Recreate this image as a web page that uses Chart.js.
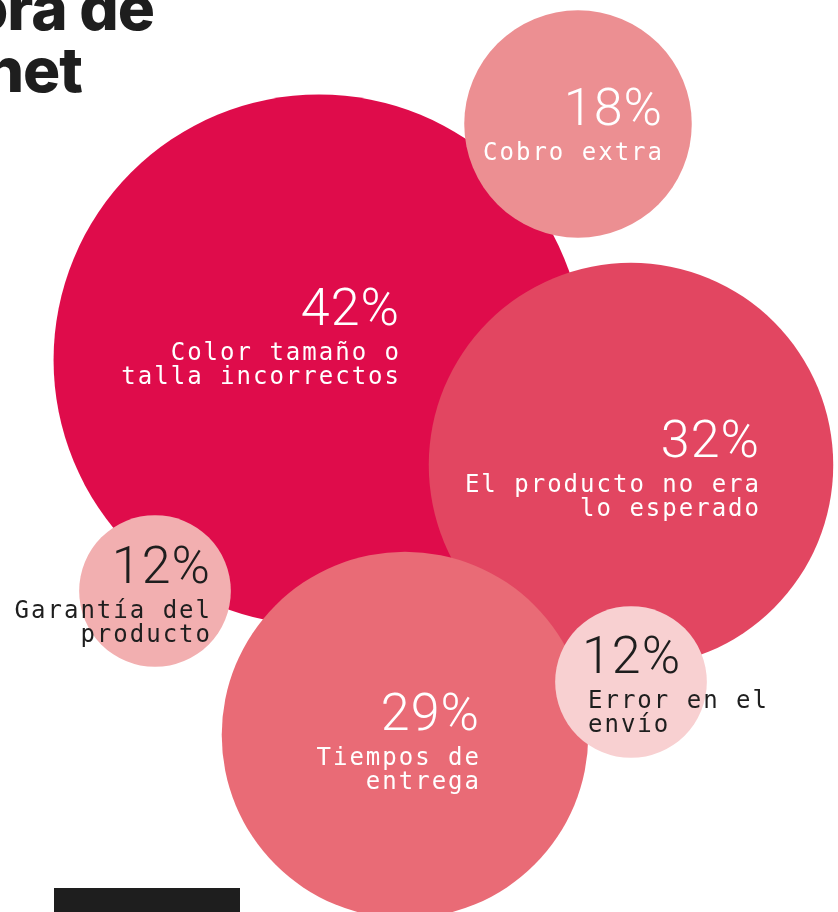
<!DOCTYPE html>
<html lang="es">
<head>
<meta charset="utf-8">
<title>Motivos de devolución</title>
<script src="https://cdn.jsdelivr.net/npm/chart.js@4"></script>
<style>
  html, body { margin: 0; padding: 0; background: #fff; overflow: hidden; }
  #bubbles { display: block; }
</style>
</head>
<body>
<canvas id="bubbles" width="838" height="912"></canvas>
<script>
// ── Data ──────────────────────────────────────────────────── //
// Drawing order matters: later bubbles sit on top of earlier ones.
const percents = [42, 18, 32, 12, 29, 12];
const reasonLines = [
  ['Color tamaño o', 'talla incorrectos'],
  ['Cobro extra'],
  ['El producto no era', 'lo esperado'],
  ['Garantía del', 'producto'],
  ['Tiempos de', 'entrega'],
  ['Error en el', 'envío'],
];
// bubble centres in axis units (x: 0–838, y: 0–912 top-down)
const bubbleX = [319, 578, 631, 155, 405, 631];
const bubbleY = [360, 124, 465, 591, 735, 682];
const titleLines = ['Qué frena al comprador a la hora de', 'comprar por internet'];

// ── Styling ───────────────────────────────────────────────── //
const fills = ['#df0c4b', '#ec8f92', '#e24661', '#f2afb0', '#e96b76', '#f8d0d1'];
const inkColors = ['#ffffff', '#ffffff', '#ffffff', '#1e1e1e', '#ffffff', '#1e1e1e'];
// text anchor relative to bubble centre (px), baseline of the percentage
const labelAnchors = [
  { dx: 80,  dy: -35, align: 'right' },
  { dx: 84,  dy: 1,   align: 'right' },
  { dx: 128, dy: -8,  align: 'right' },
  { dx: 55,  dy: -8,  align: 'right' },
  { dx: 74,  dy: -5,  align: 'right' },
  { dx: -49, dy: -9,  align: 'left'  },
];
const RADIUS_PER_POINT = 6.32; // bubble radius grows linearly with the percentage
const INK = '#1e1e1e';

/** Writes text with letter spacing; right-aligned text is nudged so the last glyph sits on x. */
function spacedText(ctx, text, x, y, spacing, align) {
  ctx.letterSpacing = spacing + 'px';
  ctx.textAlign = align;
  ctx.fillText(text, align === 'right' ? x + spacing : x, y);
  ctx.letterSpacing = '0px';
}

/** Percentages and reasons inside each bubble. */
const bubbleLabels = {
  id: 'bubbleLabels',
  afterDatasetsDraw(chart) {
    const { ctx } = chart;
    const points = chart.getDatasetMeta(0).data;
    ctx.save();
    ctx.textBaseline = 'alphabetic';
    points.forEach((pt, i) => {
      const a = labelAnchors[i];
      const x = pt.x + a.dx;
      const y = pt.y + a.dy;
      ctx.fillStyle = inkColors[i];

      ctx.font = '300 52px Roboto';
      spacedText(ctx, percents[i] + '%', x, y, 1, a.align);

      ctx.font = '24px "DejaVu Sans Mono"';
      const lx = a.align === 'left' ? x + 6 : x;
      reasonLines[i].forEach((line, j) => {
        spacedText(ctx, line, lx, y + 35 + j * 24, 2, a.align);
      });
    });
    ctx.restore();
  },
};

/** Headline (runs off the left edge) and the dark block at the foot. */
const pageDecor = {
  id: 'pageDecor',
  afterDraw(chart) {
    const { ctx } = chart;
    ctx.save();
    ctx.fillStyle = INK;
    ctx.textAlign = 'right';
    ctx.textBaseline = 'alphabetic';
    ctx.font = '800 62px Inter';
    ctx.letterSpacing = '-1px';
    ctx.fillText(titleLines[0], 154, 30);
    ctx.fillText(titleLines[1], 82, 92);
    ctx.fillRect(54, 888, 186, 24);
    ctx.restore();
  },
};

const bubbleData = percents.map((p, i) => ({ x: bubbleX[i], y: bubbleY[i], v: p }));

new Chart(document.getElementById('bubbles').getContext('2d'), {
  type: 'bubble',
  plugins: [bubbleLabels, pageDecor],
  data: {
    datasets: [{
      data: bubbleData,
      backgroundColor: fills,
      borderWidth: 0,
      hoverBorderWidth: 0,
      radius: ctx => ctx.raw.v * RADIUS_PER_POINT,
      clip: false,
    }],
  },
  options: {
    responsive: false,
    animation: false,
    events: [],
    layout: { padding: 0, autoPadding: false },
    plugins: {
      legend: { display: false },
      tooltip: { enabled: false },
    },
    scales: {
      x: { type: 'linear', min: 0, max: 838, display: false },
      y: { type: 'linear', min: 0, max: 912, reverse: true, display: false },
    },
  },
});
</script>
</body>
</html>
